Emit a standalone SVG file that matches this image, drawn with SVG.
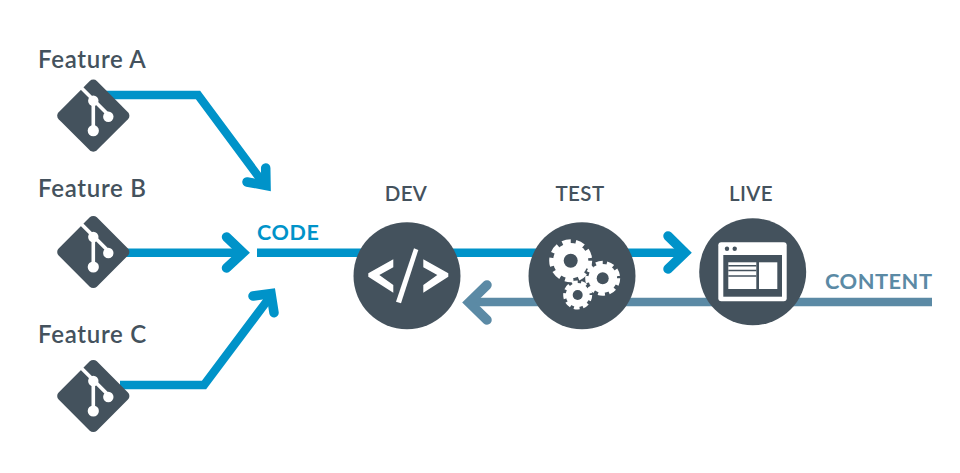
<svg xmlns="http://www.w3.org/2000/svg" xmlns:xlink="http://www.w3.org/1999/xlink" width="960" height="473" viewBox="0 0 960 473">
<style>
text{font-family:Lato,"Liberation Sans",sans-serif;fill:#44525d;font-weight:600}
.f{font-size:24px;letter-spacing:.7px}
.s{font-size:20.500px;letter-spacing:.4px;text-anchor:middle}
.c{stroke:#0093c9;stroke-width:8.5;fill:none}
.h{stroke-width:9.500;stroke-linecap:round;stroke-linejoin:miter;stroke-miterlimit:10}
.g{stroke:#5b8aa5}
.d{fill:#44525d}
.w{fill:#fff}
</style>
<defs>
<g id="git">
<rect x="-27" y="-27" width="54" height="54" rx="5" class="d" transform="rotate(45)"/>
<path d="M-12 -28L15 -1M0 -15V15" stroke="#fff" stroke-width="3.6" fill="none"/>
<circle cx="0" cy="-15" r="5.2" class="w"/><circle cx="15" cy="1" r="5.2" class="w"/><circle cx="0" cy="15" r="5.6" class="w"/>
</g>
<g id="gear">
<circle r="0.82" class="w"/>
<circle r="0.84" fill="none" stroke="#fff" stroke-width="0.32" pathLength="16" stroke-dasharray="1.25 .75"/>
</g>
</defs>
<g id="connectors">
<path class="c" d="M105 95H198L264 184"/>
<path class="c h" d="M265.700 168L266 185.500L247 182"/>
<path class="c" d="M125 252.700H241"/>
<path class="c h" d="M226.500 237L243 252.700L226.500 268"/>
<path class="c" d="M257 252.700H686"/>
<path class="c h" d="M668 236L685 252.700L668 269"/>
<path class="c" d="M120 385H204L270 297"/>
<path class="c h" d="M253 296L271 293.500L274 312.700"/>
<path class="c g" d="M932 302H472"/>
<path class="c g h" d="M487 285L469 302.500L487 320"/>
</g>
<g id="feature-a"><text class="f" x="38" y="68">Feature A</text><use href="#git" x="93.300" y="115.700"/></g>
<g id="feature-b"><text class="f" x="38" y="196.500">Feature B</text><use href="#git" x="93.300" y="252"/></g>
<g id="feature-c"><text class="f" x="38" y="342.500">Feature C</text><use href="#git" x="93.300" y="396"/></g>
<g id="code"><text x="257" y="239.500" style="font-size:21.500px;letter-spacing:.6px;font-weight:700;fill:#0093c9">CODE</text></g>
<g id="dev">
<text class="s" x="406" y="201">DEV</text>
<circle cx="407" cy="275.700" r="53.500" class="d"/>
<path class="w" d="M393.300 259.300V267.300L379.300 275L393.300 285V292.700L368.300 276.700V273.300ZM423.300 259.300V267.300L437.300 275L423.300 285V292.700L448.300 276.700V273.300Z"/>
<path class="w" d="M414 248.300L418.300 250L401 303.300L396 301.700Z"/>
</g>
<g id="test">
<text class="s" x="580" y="201">TEST</text>
<circle cx="582" cy="275.700" r="53.500" class="d"/>
<use href="#gear" transform="translate(570.700 260.700) scale(21.500)"/><circle cx="570.700" cy="260.700" r="7" class="d"/>
<use href="#gear" transform="translate(602.700 278.300) scale(17.500)"/><circle cx="602.700" cy="278.300" r="6" class="d"/>
<use href="#gear" transform="translate(577.700 295) scale(14.500)"/><circle cx="577.700" cy="295" r="5" class="d"/>
</g>
<g id="live">
<text class="s" x="751" y="201">LIVE</text>
<circle cx="752.700" cy="271.700" r="53.500" class="d"/>
<rect x="718.300" y="242.300" width="68.400" height="59" rx="3" class="w"/>
<circle cx="727" cy="248.700" r="2.200" class="d"/><circle cx="734.700" cy="248.700" r="2.200" class="d"/>
<rect x="723.300" y="255" width="58.700" height="41.700" class="d"/>
<rect x="728.300" y="262.300" width="28" height="26.700" class="w"/>
<rect x="759" y="262.300" width="18.300" height="26.700" class="w"/>
<path d="M728.300 265.800H756.300M728.300 270.500H756.300M728.300 276H756.300" stroke="#44525d" stroke-width="1.600"/>
</g>
<g id="content"><text x="825" y="288.500" style="font-size:21.800px;letter-spacing:.5px;font-weight:700;fill:#5b8aa5">CONTENT</text></g>
</svg>
